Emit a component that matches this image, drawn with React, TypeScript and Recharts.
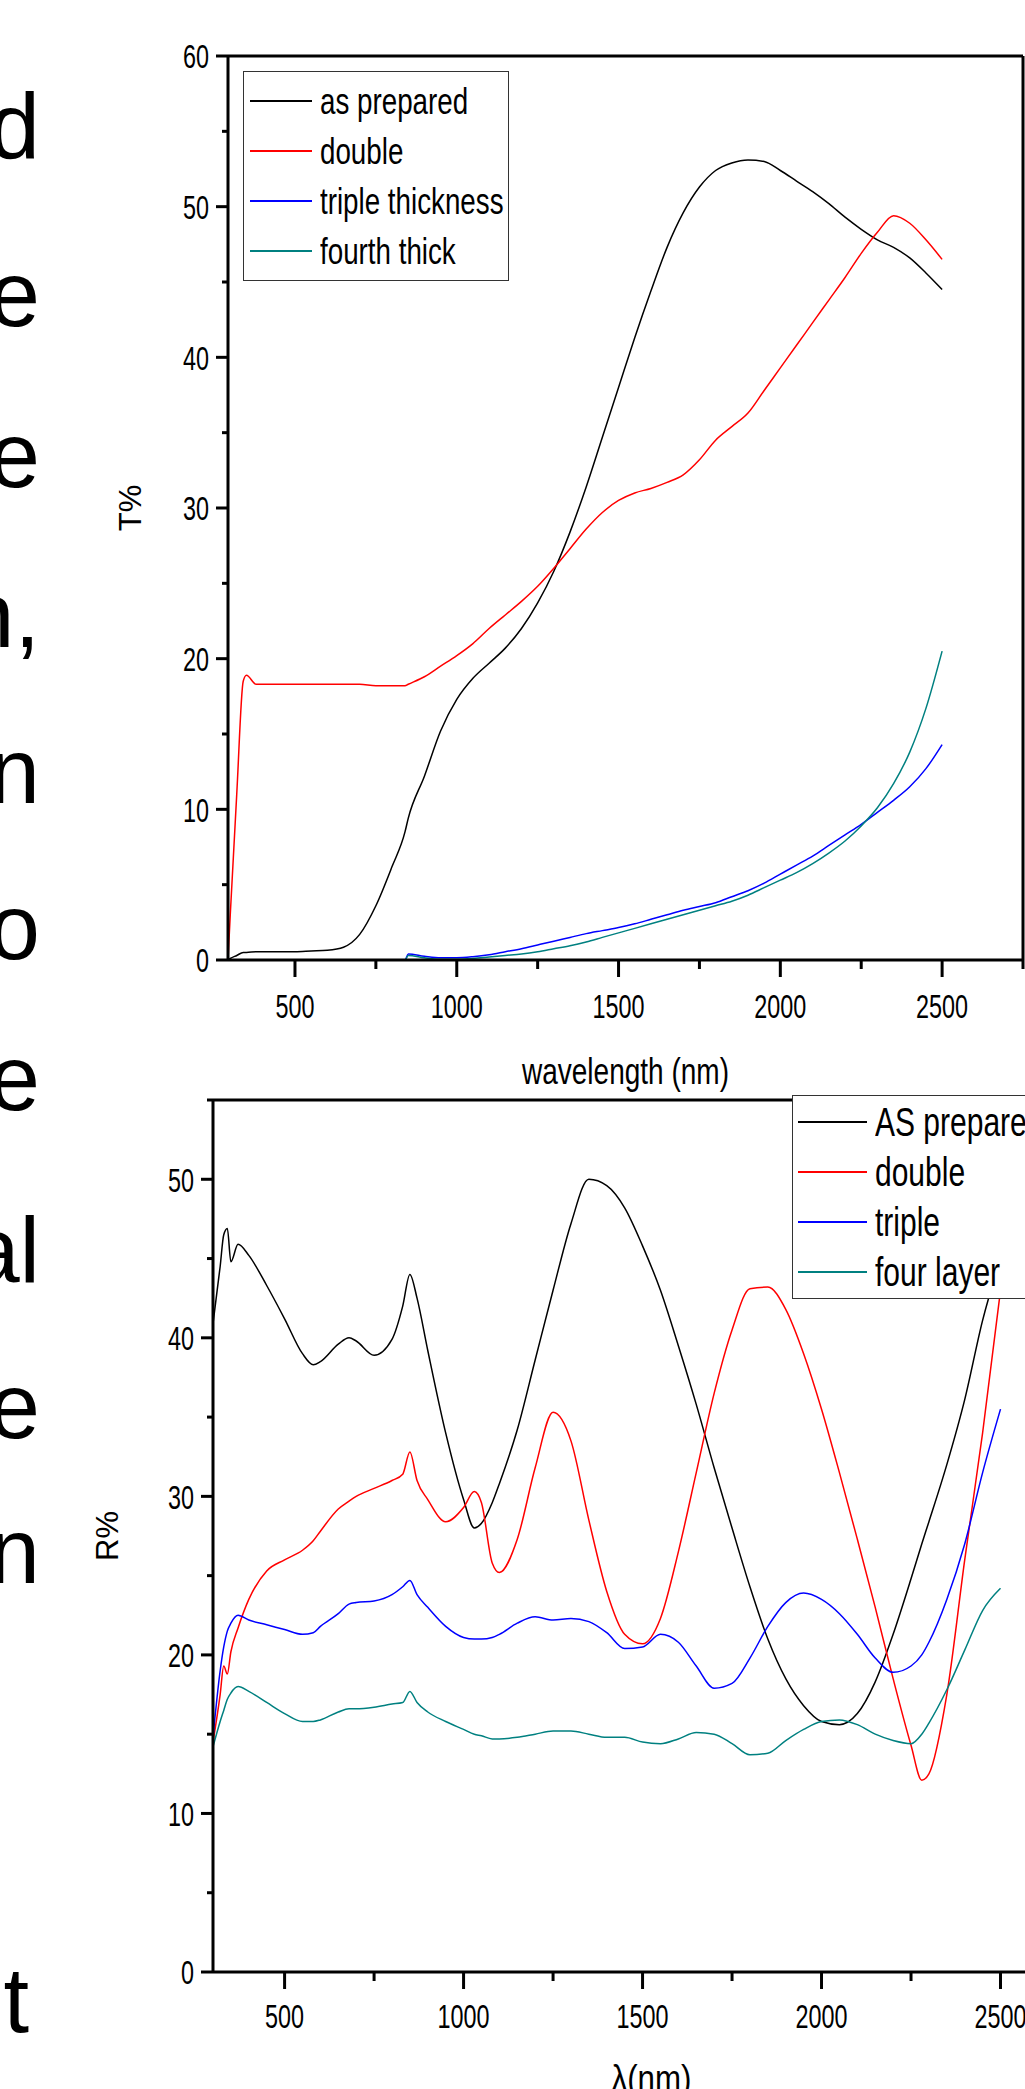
import React from 'react';
import { LineChart, Line, XAxis, YAxis, ReferenceLine, Legend, Label } from 'recharts';

// transmittance (top panel)
const topWavelengths = [293, 300, 320, 340, 350, 380, 400, 450, 500, 550, 600, 650, 700, 750, 800, 840, 850, 900, 950, 1000, 1050, 1100, 1150, 1200, 1250, 1300, 1350, 1400, 1450, 1500, 1550, 1600, 1650, 1700, 1750, 1800, 1850, 1900, 1950, 2000, 2050, 2100, 2150, 2200, 2250, 2300, 2350, 2400, 2450, 2500];
const topAsPrepared = [0, 0.1, 0.3, 0.5, 0.5, 0.55, 0.55, 0.55, 0.55, 0.6, 0.65, 0.85, 1.7, 3.6, 6.2, 8.5, 9.4, 12.2, 15.2, 17.3, 18.7, 19.7, 20.7, 22, 23.7, 25.8, 28.4, 31.4, 34.7, 38, 41.3, 44.4, 47.3, 49.6, 51.3, 52.4, 52.9, 53.1, 53, 52.4, 51.7, 51, 50.2, 49.3, 48.5, 47.8, 47.3, 46.6, 45.6, 44.5];
const topDouble = [0, 3, 11, 18.5, 18.9, 18.3, 18.3, 18.3, 18.3, 18.3, 18.3, 18.3, 18.3, 18.2, 18.2, 18.2, 18.3, 18.8, 19.5, 20.2, 21, 22, 22.9, 23.8, 24.8, 26, 27.3, 28.6, 29.7, 30.5, 31, 31.3, 31.7, 32.2, 33.2, 34.5, 35.4, 36.3, 37.8, 39.3, 40.8, 42.3, 43.8, 45.3, 46.9, 48.3, 49.4, 48.9, 47.8, 46.5];
const topTriple = [0, 0, 0, 0, 0, 0, 0, 0, 0, 0, 0, 0, 0, 0, 0, 0, 0.4, 0.25, 0.15, 0.15, 0.22, 0.35, 0.55, 0.75, 1.0, 1.25, 1.5, 1.75, 1.95, 2.15, 2.4, 2.7, 3.0, 3.3, 3.55, 3.8, 4.2, 4.6, 5.1, 5.7, 6.3, 6.9, 7.6, 8.3, 9.0, 9.8, 10.6, 11.5, 12.7, 14.3];
const topFourth = [0, 0, 0, 0, 0, 0, 0, 0, 0, 0, 0, 0, 0, 0, 0, 0, 0.3, 0.15, 0.05, 0.05, 0.1, 0.2, 0.3, 0.4, 0.55, 0.75, 0.95, 1.2, 1.5, 1.8, 2.1, 2.4, 2.7, 3.0, 3.3, 3.6, 3.9, 4.3, 4.8, 5.3, 5.8, 6.4, 7.1, 7.9, 8.9, 10.1, 11.7, 13.8, 16.7, 20.5];
const topNames = ['as prepared', 'double', 'triple thickness', 'fourth thick'];

// reflectance (bottom panel)
const bottomWavelengths = [300, 320, 330, 340, 350, 370, 400, 450, 500, 550, 580, 600, 650, 680, 700, 750, 800, 830, 850, 870, 900, 950, 1000, 1030, 1050, 1080, 1100, 1150, 1200, 1250, 1300, 1350, 1400, 1450, 1500, 1550, 1600, 1650, 1700, 1750, 1800, 1850, 1900, 1950, 2000, 2050, 2100, 2150, 2200, 2250, 2280, 2300, 2350, 2400, 2450, 2500];
const bottomAsPrepared = [40.9, 44.5, 46.5, 46.9, 44.8, 45.9, 45.2, 43.3, 41.2, 39, 38.3, 38.5, 39.6, 40, 39.8, 38.9, 39.9, 42, 44, 42.5, 39.2, 34, 29.8, 28, 28.3, 29.6, 30.8, 34.2, 38.6, 43, 47.2, 50, 49.6, 48.2, 45.8, 43, 39.5, 35.8, 31.8, 28, 24.3, 21, 18.5, 16.8, 15.8, 15.6, 16.3, 18.3, 21.3, 24.8, 27, 28.4, 32, 36.1, 41.1, 45];
const bottomDouble = [14.5, 17.5, 19.3, 18.8, 20.2, 21.7, 23.5, 25.3, 26, 26.6, 27.2, 27.8, 29.2, 29.7, 30, 30.5, 31, 31.4, 32.8, 31, 29.8, 28.4, 29.3, 30.3, 29.6, 25.8, 25.2, 27.3, 31.8, 35.3, 33.5, 28.5, 24, 21.3, 20.7, 22.3, 26.5, 31.5, 36.5, 40.5, 43.1, 43.2, 41.8, 39, 35.5, 31.5, 27.3, 23, 18.5, 14.3, 12.1, 12.5, 17.5, 26, 34, 43];
const bottomTriple = [14.8, 19, 20.5, 21.5, 22, 22.5, 22.2, 21.9, 21.6, 21.3, 21.4, 21.8, 22.6, 23.2, 23.3, 23.4, 23.8, 24.3, 24.7, 23.8, 23, 21.8, 21.1, 21, 21, 21.1, 21.3, 22, 22.4, 22.2, 22.3, 22.1, 21.4, 20.4, 20.5, 21.3, 20.8, 19.3, 17.9, 18.2, 19.8, 21.8, 23.3, 23.9, 23.5, 22.6, 21.3, 19.8, 18.9, 19.3, 20, 20.8, 23.5, 27, 31.5, 35.5];
const bottomFour = [14.2, 15.8, 16.5, 17.2, 17.6, 18, 17.7, 17, 16.3, 15.8, 15.8, 15.9, 16.4, 16.6, 16.6, 16.7, 16.9, 17, 17.7, 17, 16.4, 15.8, 15.3, 15, 14.9, 14.7, 14.7, 14.8, 15, 15.2, 15.2, 15, 14.8, 14.8, 14.5, 14.4, 14.7, 15.1, 15, 14.4, 13.7, 13.8, 14.6, 15.3, 15.8, 15.9, 15.6, 15, 14.6, 14.4, 15, 15.7, 17.8, 20.3, 22.8, 24.2];
const bottomNames = ['AS prepared', 'double', 'triple', 'four layer'];

const xTicks = [500, 750, 1000, 1250, 1500, 1750, 2000, 2250, 2500, 2750];
const topYTicks = [0, 5, 10, 15, 20, 25, 30, 35, 40, 45, 50, 55, 60];
const bottomYTicks = [0, 5, 10, 15, 20, 25, 30, 35, 40, 45, 50, 55];

// cut-off words of the neighbouring text column
const sideText = [
  { text: 'd', y: 158 }, { text: 'e', y: 326 }, { text: 'e', y: 487 }, { text: 'n,', y: 647 },
  { text: 'n', y: 803 }, { text: 'o', y: 959 }, { text: 'e', y: 1110 }, { text: 'al', y: 1282 },
  { text: 'e', y: 1438 }, { text: 'n', y: 1583 }, { text: 't', y: 2032 },
];

const topData = topWavelengths.map((nm, i) => ({
  nm, asPrepared: topAsPrepared[i], double: topDouble[i], triple: topTriple[i], fourth: topFourth[i],
}));
const bottomData = bottomWavelengths.map((nm, i) => ({
  nm, asPrepared: bottomAsPrepared[i], double: bottomDouble[i], triple: bottomTriple[i], four: bottomFour[i],
}));

const ARIAL = '"Liberation Sans", Arial, sans-serif';

const makeXTick = (labelDy: number) => (props: any) => {
  const { x, y, payload } = props;
  const major = payload.value % 500 === 0;
  const label = String(payload.value);
  return (
    <g>
      <line x1={x} x2={x} y1={y} y2={y + (major ? 17 : 9)} stroke="#000" strokeWidth={3} />
      {major && (
        <text x={x} y={y + labelDy} textAnchor="middle" fontFamily={ARIAL} fontSize={34}
          textLength={label.length * 13} lengthAdjust="spacingAndGlyphs" fill="#000">{label}</text>
      )}
    </g>
  );
};

const YTick = (props: any) => {
  const { x, y, payload } = props;
  const major = payload.value % 10 === 0;
  const label = String(payload.value);
  return (
    <g>
      <line x1={x - (major ? 12 : 6)} x2={x} y1={y} y2={y} stroke="#000" strokeWidth={3} />
      {major && (
        <text x={x - 19} y={y} dy="0.36em" textAnchor="end" fontFamily={ARIAL} fontSize={34}
          textLength={label.length * 13} lengthAdjust="spacingAndGlyphs" fill="#000">{label}</text>
      )}
    </g>
  );
};

const makeLegend = (order: string[], fontSize: number, lineW: number, lineLeft: number, width: number, padY: number) => (props: any) => {
  const items = [...(props.payload || [])].sort((a: any, b: any) => order.indexOf(a.value) - order.indexOf(b.value));
  return (
    <div style={{ border: '1.5px solid #333', background: '#fff', width, padding: `${padY}px 0`, boxSizing: 'content-box', overflow: 'visible' }}>
      {items.map((p: any) => (
        <div key={p.value} style={{ display: 'flex', alignItems: 'center', height: 50 }}>
          <span style={{ display: 'inline-block', flexShrink: 0, width: lineW, borderTop: `2px solid ${p.color}`, marginLeft: lineLeft, marginRight: 8 }} />
          <span style={{ display: 'inline-block', flexShrink: 0, fontFamily: ARIAL, fontSize, lineHeight: 1, color: '#000', whiteSpace: 'nowrap',
            transform: 'scaleX(0.75)', transformOrigin: 'left center' }}>{p.value}</span>
        </div>
      ))}
    </div>
  );
};

const xTitle = (text: string, dy: number, len: number) => (props: any) => {
  const vb = props.viewBox;
  return (
    <text x={vb.x + vb.width / 2} y={vb.y + dy} textAnchor="middle" fontFamily={ARIAL} fontSize={37}
      textLength={len} lengthAdjust="spacingAndGlyphs" fill="#000">{text}</text>
  );
};

const yTitle = (text: string, dx: number) => (props: any) => {
  const vb = props.viewBox;
  const cx = vb.x - dx;
  const cy = vb.y + vb.height / 2;
  return (
    <text x={cx} y={cy} textAnchor="middle" dominantBaseline="central" fontFamily={ARIAL} fontSize={31}
      fill="#000" transform={`rotate(-90 ${cx} ${cy})`}>{text}</text>
  );
};

const lineProps = { dot: false, isAnimationActive: false, strokeWidth: 1.5, type: 'monotone' as const };

export default function App() {
  return (
    <div style={{ position: 'absolute', left: 0, top: 0, width: 1025, height: 2089, overflow: 'hidden', background: '#fff' }}>
      <svg width={60} height={2089} style={{ position: 'absolute', left: 0, top: 0 }}>
        {sideText.map((t, i) => (
          <text key={i} x={t.text === 't' ? 29 : 40} y={t.y} textAnchor="end" fontFamily={ARIAL} fontSize={92} fill="#000">{t.text}</text>
        ))}
      </svg>

      <div style={{ position: 'absolute', left: 0, top: 0 }}>
        <LineChart width={1025} height={1100} data={topData} margin={{ top: 56, right: 2, left: 227, bottom: 139 }} style={{ overflow: 'visible' }}>
          <XAxis dataKey="nm" type="number" domain={[293, 2750]} ticks={xTicks} interval={0} height={1}
            tickSize={0} tickMargin={0} tickLine={false} tick={makeXTick(58)} axisLine={{ stroke: '#000', strokeWidth: 3 }} allowDataOverflow>
            <Label content={xTitle('wavelength (nm)', 124, 207)} />
          </XAxis>
          <YAxis type="number" domain={[0, 60]} ticks={topYTicks} interval={0} width={1}
            tickSize={0} tickMargin={0} tickLine={false} tick={YTick} axisLine={{ stroke: '#000', strokeWidth: 3 }} allowDataOverflow>
            <Label content={yTitle('T%', 97)} />
          </YAxis>
          <ReferenceLine y={60} stroke="#000" strokeWidth={3} />
          <ReferenceLine x={2750} stroke="#000" strokeWidth={3} />
          <Line dataKey="asPrepared" name={topNames[0]} stroke="#000000" {...lineProps} />
          <Line dataKey="double" name={topNames[1]} stroke="#ff0000" {...lineProps} />
          <Line dataKey="triple" name={topNames[2]} stroke="#0000ff" {...lineProps} />
          <Line dataKey="fourth" name={topNames[3]} stroke="#008080" {...lineProps} />
          <Legend layout="vertical" align="center" verticalAlign="middle"
            wrapperStyle={{ left: 243, top: 71, width: 'auto' }}
            content={makeLegend(topNames, 37, 62, 5.5, 264, 4)} />
        </LineChart>
      </div>

      <div style={{ position: 'absolute', left: 0, top: 1080 }}>
        <LineChart width={1100} height={1009} data={bottomData} margin={{ top: 20, right: 10, left: 212, bottom: 116 }} style={{ overflow: 'visible' }}>
          <XAxis dataKey="nm" type="number" domain={[300, 2750]} ticks={xTicks} interval={0} height={1}
            tickSize={0} tickMargin={0} tickLine={false} tick={makeXTick(56)} axisLine={{ stroke: '#000', strokeWidth: 3 }} allowDataOverflow>
            <Label content={xTitle('λ(nm)', 119, 80)} />
          </XAxis>
          <YAxis type="number" domain={[0, 55]} ticks={bottomYTicks} interval={0} width={1}
            tickSize={0} tickMargin={0} tickLine={false} tick={YTick} axisLine={{ stroke: '#000', strokeWidth: 3 }} allowDataOverflow>
            <Label content={yTitle('R%', 105)} />
          </YAxis>
          <ReferenceLine y={55} stroke="#000" strokeWidth={3} />
          <ReferenceLine x={2750} stroke="#000" strokeWidth={3} />
          <Line dataKey="asPrepared" name={bottomNames[0]} stroke="#000000" {...lineProps} />
          <Line dataKey="double" name={bottomNames[1]} stroke="#ff0000" {...lineProps} />
          <Line dataKey="triple" name={bottomNames[2]} stroke="#0000ff" {...lineProps} />
          <Line dataKey="four" name={bottomNames[3]} stroke="#008080" {...lineProps} />
          <Legend layout="vertical" align="center" verticalAlign="middle"
            wrapperStyle={{ left: 792, top: 15, width: 'auto' }}
            content={makeLegend(bottomNames, 40, 69, 5, 260, 1)} />
        </LineChart>
      </div>
    </div>
  );
}
